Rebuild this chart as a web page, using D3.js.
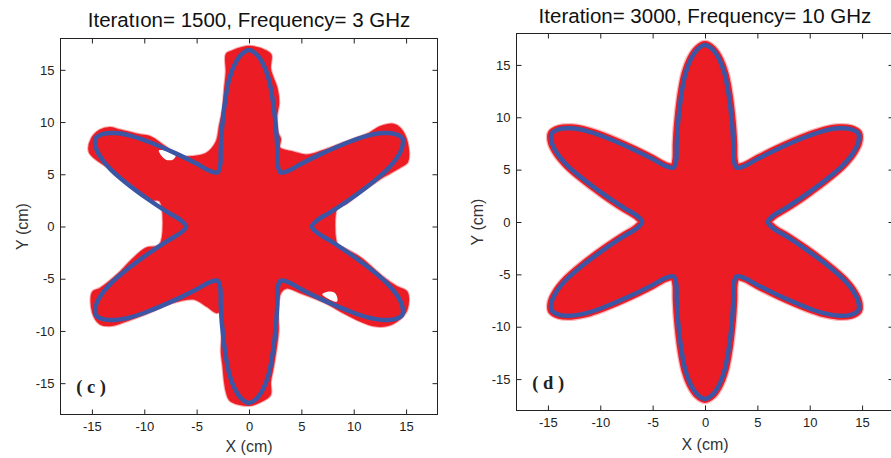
<!DOCTYPE html>
<html>
<head>
<meta charset="utf-8">
<script src="https://cdn.jsdelivr.net/npm/d3@7"></script>
<style>
  body { margin: 0; background: #fff; }
  svg { display: block; }
  text { font-family: "Liberation Sans", Arial, sans-serif; }
</style>
</head>
<body>
<div id="displaybox"></div>
<script>
// titles / labels
const titles = ["Iteratıon= 1500, Frequency= 3 GHz", "Iteration= 3000, Frequency= 10 GHz"];
const panelTags = ["( c )", "( d )"];
const tickValues = [-15, -10, -5, 0, 5, 10, 15];
const axisDomain = [-18, 18];

// true contour (blue), polar: angle in degrees clockwise from +Y, radius in cm
const outlineAngle = [
  -25, -20, -15, -10, -7.5, -5, -2.5, 0, 2.5, 5, 7.5, 10, 15, 20, 25, 30,
  35, 40, 45, 50, 52.5, 55, 57.5, 60, 62.5, 65, 67.5, 70, 75, 80, 85, 90,
  95, 100, 105, 110, 112.5, 115, 117.5, 120, 122.5, 125, 127.5, 130, 135, 140, 145, 150,
  155, 160, 165, 170, 172.5, 175, 177.5, 180, 182.5, 185, 187.5, 190, 195, 200, 205, 210,
  215, 220, 225, 230, 232.5, 235, 237.5, 240, 242.5, 245, 247.5, 250, 255, 260, 265, 270,
  275, 280, 285, 290, 292.5, 295, 297.5, 300, 302.5, 305, 307.5, 310, 315, 320, 325, 330
];
const outlineRadius = [
  6.5, 7.9, 9.9, 12.7, 14.3, 15.6, 16.5, 16.9, 16.5, 15.6, 14.3, 12.7, 9.9, 7.9, 6.5, 6.0,
  6.5, 7.9, 9.9, 12.7, 14.3, 15.6, 16.5, 16.9, 16.5, 15.6, 14.3, 12.7, 9.9, 7.9, 6.5, 6.0,
  6.5, 7.9, 9.9, 12.7, 14.3, 15.6, 16.5, 16.9, 16.5, 15.6, 14.3, 12.7, 9.9, 7.9, 6.5, 6.0,
  6.5, 7.9, 9.9, 12.7, 14.3, 15.6, 16.5, 16.9, 16.5, 15.6, 14.3, 12.7, 9.9, 7.9, 6.5, 6.0,
  6.5, 7.9, 9.9, 12.7, 14.3, 15.6, 16.5, 16.9, 16.5, 15.6, 14.3, 12.7, 9.9, 7.9, 6.5, 6.0,
  6.5, 7.9, 9.9, 12.7, 14.3, 15.6, 16.5, 16.9, 16.5, 15.6, 14.3, 12.7, 9.9, 7.9, 6.5, 6.0
];

// reconstruction at 3 GHz (red), cm
const reconCX = [
  0, 1.69, 2.07, 2.0, 2.64, 2.8, 2.6, 2.7, 2.96, 2.9, 4.2, 5.5, 7.0, 9.0, 11.5, 12.5, 13.8, 14.4,
  15.06, 15.1, 14.4, 12.5, 10.6, 9.2, 8.4, 8.4, 9.0, 10.6, 12.8, 14.1, 15.06, 15.06, 14.4, 13.15,
  11.9, 10.6, 9.0, 7.4, 4.9, 3.6, 3.0, 2.7, 2.75, 2.3, 2.0, 2.0, 1.37, 0, -1.8, -2.13, -2.29,
  -2.45, -2.6, -2.5, -2.5, -3.1, -4.0, -5.3, -7.5, -9.8, -11.7, -13.3, -14.2, -14.9, -14.9,
  -14.2, -12.3, -11.05, -9.8, -8.5, -8.5, -9.46, -11.05, -13.3, -15.2, -15.0, -14.2, -13.3,
  -12.3, -10.4, -9.46, -8.0, -6.6, -5.3, -4.04, -3.09, -2.77, -2.45, -2.29, -2.13, -2.13, -1.66
];
const reconCY = [
  17.2, 16.75, 16.4, 15.1, 13.2, 11.9, 10.5, 9.0, 8.4, 7.5, 7.1, 6.8, 7.2, 7.95, 8.9, 9.5, 9.75, 9.4,
  8.1, 6.2, 5.7, 4.6, 3.3, 2.2, 1.9, -1.8, -2.1, -3.0, -4.9, -5.8, -6.3, -7.9, -8.8, -9.46,
  -9.46, -9.0, -8.2, -7.3, -6.3, -5.85, -6.3, -7.9, -10.0, -13.3, -14.9, -16.1, -16.6, -17.1, -16.6, -15.8, -14.9,
  -13.3, -12.0, -10.0, -8.0, -8.2, -7.6, -6.9, -7.3, -8.3, -9.0, -9.46, -9.3, -8.2, -6.3,
  -5.96, -4.4, -3.1, -2.1, -1.8, 2.5, 2.6, 4.0, 5.6, 7.13, 8.4, 9.2, 9.43,
  9.2, 8.73, 8.57, 7.6, 6.66, 6.66, 6.97, 8.09, 9.68, 11.27, 13.2, 14.8, 16.5, 16.75
];
// holes inside the 3 GHz reconstruction
const holeAX = [-8.6, -8.3, -7.8, -7.2, -7.0];
const holeAY = [7.3, 6.7, 6.35, 6.45, 6.9];
const holeBX = [7.0, 7.5, 8.1, 8.4, 8.4];
const holeBY = [-6.5, -6.25, -6.3, -6.7, -7.2];

const RED = "#ec1c24", BLUE = "#3c56a6", FUZZ = "#f27075";

const panels = [
  {x0: 60.5, x1: 437.5, y0: 414.5, y1: 38.5, titleY: 26.5, ylabX: 22, xlabY: 452},
  {x0: 516.5, x1: 893.5, y0: 410.5, y1: 33.5, titleY: 22.5, ylabX: 477, xlabY: 450}
];

let svg = d3.select("#displaybox").append("svg")
  .attr("width", 891).attr("height", 458);

panels.forEach((p, i) => {
  let x = d3.scaleLinear().domain(axisDomain).range([p.x0, p.x1]);
  let y = d3.scaleLinear().domain(axisDomain).range([p.y0, p.y1]);
  let g = svg.append("g");

  let clipId = "clip" + i;
  svg.append("clipPath").attr("id", clipId).append("rect")
    .attr("x", p.x0).attr("y", p.y1).attr("width", p.x1 - p.x0).attr("height", p.y0 - p.y1);
  let plot = g.append("g").attr("clip-path", `url(#${clipId})`);

  let outline = outlineAngle.map((a, k) => {
    let t = a * Math.PI / 180, r = outlineRadius[k];
    return [r * Math.sin(t), r * Math.cos(t)];
  });
  let line = d3.line().x(d => x(d[0])).y(d => y(d[1])).curve(d3.curveCatmullRomClosed.alpha(0.5));

  if (i === 0) {
    let recon = reconCX.map((v, k) => [v, reconCY[k]]);
    plot.append("path").attr("d", line(recon))
      .attr("fill", FUZZ).attr("stroke", FUZZ).attr("stroke-opacity", 0.6)
      .attr("stroke-width", 4).attr("stroke-linejoin", "round");
    plot.append("path").attr("d", line(recon))
      .attr("fill", RED).attr("stroke", RED).attr("stroke-width", 2).attr("stroke-linejoin", "round");
    [[holeAX, holeAY], [holeBX, holeBY]].forEach(([hx, hy]) => {
      plot.append("path").attr("d", line(hx.map((v, k) => [v, hy[k]]))).attr("fill", "#fff");
    });
  } else {
    plot.append("path").attr("d", line(outline))
      .attr("fill", RED).attr("stroke", FUZZ).attr("stroke-opacity", 0.5)
      .attr("stroke-width", 10.5).attr("stroke-linejoin", "round");
    plot.append("path").attr("d", line(outline))
      .attr("fill", RED).attr("stroke", RED).attr("stroke-width", 8).attr("stroke-linejoin", "round");
  }
  plot.append("path").attr("d", line(outline))
    .attr("fill", "none").attr("stroke", BLUE).attr("stroke-width", 4.5).attr("stroke-linejoin", "round");

  // axes, ticks pointing inward on all four sides
  let fmt = d => String(d);
  let axes = [
    [d3.axisBottom(x).tickFormat(fmt).tickPadding(7), `translate(0,${p.y0})`],
    [d3.axisTop(x).tickFormat(""), `translate(0,${p.y1})`],
    [d3.axisLeft(y).tickFormat(fmt).tickPadding(6), `translate(${p.x0},0)`],
    [d3.axisRight(y).tickFormat(""), `translate(${p.x1},0)`]
  ];
  axes.forEach(([ax, tr]) => {
    let a = g.append("g").attr("transform", tr)
      .call(ax.tickValues(tickValues).tickSizeInner(-5).tickSizeOuter(0));
    a.select(".domain").remove();
    a.selectAll("line").attr("stroke", "#222");
    a.selectAll("text").attr("font-size", 13).attr("fill", "#222");
  });
  g.append("rect").attr("x", p.x0).attr("y", p.y1)
    .attr("width", p.x1 - p.x0).attr("height", p.y0 - p.y1)
    .attr("fill", "none").attr("stroke", "#222").attr("stroke-width", 1);

  let cx = x(0);
  g.append("text").attr("x", cx).attr("y", p.titleY).attr("text-anchor", "middle")
    .attr("font-size", 20.5).attr("fill", "#111").text(titles[i]);
  g.append("text").attr("x", cx).attr("y", p.xlabY).attr("text-anchor", "middle")
    .attr("font-size", 16).attr("fill", "#333").text("X (cm)");
  g.append("text").attr("transform", `translate(${p.ylabX},${y(0)}) rotate(-90)`)
    .attr("text-anchor", "middle").attr("dy", "0.35em")
    .attr("font-size", 16).attr("fill", "#333").text("Y (cm)");
  g.append("text").attr("x", x(-16.5)).attr("y", y(-15.9))
    .style("font-family", "'Liberation Serif', 'Times New Roman', serif")
    .attr("font-weight", "bold").attr("font-size", 18.5).attr("fill", "#222")
    .style("white-space", "pre").text(panelTags[i]);
});
</script>
</body>
</html>
